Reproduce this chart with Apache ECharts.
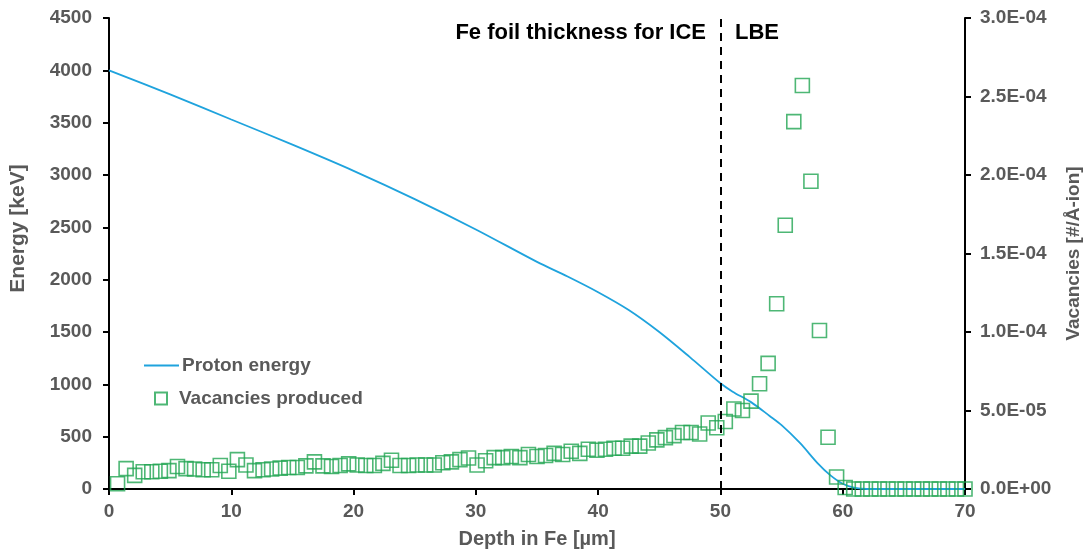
<!DOCTYPE html>
<html>
<head>
<meta charset="utf-8">
<script src="https://cdn.jsdelivr.net/npm/echarts@6/dist/echarts.min.js"></script>
<style>
html,body{margin:0;padding:0;background:#fff;}
#chart{width:1091px;height:554px;}
</style>
</head>
<body>
<div id="chart"></div>
<script>
// Proton energy curve (depth µm, energy keV)
const energyDepth = [0, 5, 10, 15, 20, 25, 30, 35, 37.5, 40, 42.5, 45, 47.5, 50, 51, 52.5, 54, 55, 56.5, 58, 59, 60, 61, 62, 66, 70];
const energyKeV   = [4000, 3770, 3530, 3290, 3040, 2770, 2480, 2170, 2030, 1880, 1710, 1500, 1260, 1010, 930, 830, 700, 610, 440, 240, 130, 50, 10, 0, 0, 0];

// Vacancies produced (depth µm, vacancies in units of 1E-05 #/Å-ion)
const vacDepth = [
  0.7, 1.4, 2.1, 2.8, 3.5, 4.2, 4.9, 5.6, 6.3, 7.0,
  7.7, 8.4, 9.1, 9.8, 10.5, 11.2, 11.9, 12.6, 13.3, 14.0,
  14.7, 15.4, 16.1, 16.8, 17.5, 18.2, 18.9, 19.6, 20.3, 21.0,
  21.7, 22.4, 23.1, 23.8, 24.5, 25.2, 25.9, 26.6, 27.3, 28.0,
  28.7, 29.4, 30.1, 30.8, 31.5, 32.2, 32.9, 33.6, 34.3, 35.0,
  35.7, 36.4, 37.1, 37.8, 38.5, 39.2, 39.9, 40.6, 41.3, 42.0,
  42.7, 43.4, 44.1, 44.8, 45.5, 46.2, 46.9, 47.6, 48.3, 49.0,
  49.7, 50.4, 51.1, 51.8, 52.5, 53.2, 53.9, 54.6, 55.3, 56.0,
  56.7, 57.4, 58.1, 58.8, 59.5, 60.2, 60.9, 61.6, 62.3, 63.0,
  63.7, 64.4, 65.1, 65.8, 66.5, 67.2, 67.9, 68.6, 69.3, 70.0
];
const vacE5 = [
  0.33, 1.30, 0.87, 1.10, 1.10, 1.13, 1.17, 1.43, 1.30, 1.27,
  1.23, 1.23, 1.50, 1.13, 1.87, 1.53, 1.17, 1.23, 1.27, 1.33,
  1.37, 1.37, 1.47, 1.73, 1.47, 1.43, 1.50, 1.60, 1.53, 1.50,
  1.50, 1.63, 1.83, 1.50, 1.50, 1.53, 1.53, 1.53, 1.67, 1.73,
  1.87, 1.97, 1.53, 1.80, 2.00, 2.00, 2.07, 2.00, 2.20, 2.07,
  2.13, 2.27, 2.20, 2.40, 2.27, 2.53, 2.47, 2.53, 2.60, 2.60,
  2.73, 2.73, 2.93, 3.13, 3.27, 3.40, 3.60, 3.60, 3.50, 4.20,
  3.90, 4.30, 5.10, 5.00, 5.60, 6.70, 8.00, 11.8, 16.8, 23.4,
  25.7, 19.6, 10.1, 3.30, 0.76, 0.10, 0, 0, 0, 0,
  0, 0, 0, 0, 0, 0, 0, 0, 0, 0
];

const xTicks = {min: 0, max: 70, interval: 10};
const yLeftTicks = {min: 0, max: 4500, interval: 500};
const yRightTicks = {min: 0, max: 3.0e-4, interval: 5.0e-5};

const energyData = energyDepth.map((d, i) => [d, energyKeV[i]]);
const vacData = vacDepth.map((d, i) => [d, vacE5[i] * 1e-5]);

const GRAY = '#595959';
const LINE = '#1fa3dd';
const GREEN = '#22a552';
const FONT = '"Liberation Sans", Arial, sans-serif';

function expFmt(v) {
  let s = Number(v).toExponential(1).toUpperCase();
  return s.replace(/E([+-])(\d)$/, 'E$10$2');
}

const chart = echarts.init(document.getElementById('chart'));
chart.setOption({
  animation: false,
  textStyle: {fontFamily: FONT},
  grid: {left: 108, right: 122, top: 18, bottom: 65, containLabel: false},
  legend: [
    {
      data: [{name: 'Proton energy', icon: 'path://M0,0 L36,0 L36,2 L0,2 Z'}],
      orient: 'vertical', left: 139, top: 351,
      itemWidth: 35, itemHeight: 2,
      itemStyle: {color: LINE},
      textStyle: {color: GRAY, fontSize: 19, fontWeight: 'bold', fontFamily: FONT, padding: [0, 0, 0, -2]}
    },
    {
      data: [{name: 'Vacancies produced', icon: 'rect'}], orient: 'vertical', left: 149, top: 384,
      itemWidth: 12, itemHeight: 12,
      itemStyle: {color: 'rgba(0,0,0,0)', borderColor: GREEN, borderWidth: 2},
      textStyle: {color: GRAY, fontSize: 19, fontWeight: 'bold', fontFamily: FONT, padding: [0, 0, 0, 7]}
    }
  ],
  xAxis: {
    type: 'value', min: xTicks.min, max: xTicks.max, interval: xTicks.interval,
    name: 'Depth in Fe [µm]', nameLocation: 'middle', nameGap: 40,
    nameTextStyle: {color: GRAY, fontSize: 20, fontWeight: 'bold', fontFamily: FONT},
    axisLine: {lineStyle: {color: '#000', width: 2}},
    axisTick: {show: true, length: 6, lineStyle: {color: '#000', width: 2}},
    axisLabel: {color: GRAY, fontSize: 19, fontWeight: 'bold', margin: 13},
    splitLine: {show: false}
  },
  yAxis: [
    {
      type: 'value', min: yLeftTicks.min, max: yLeftTicks.max, interval: yLeftTicks.interval,
      name: 'Energy [keV]', nameLocation: 'middle', nameGap: 80, nameRotate: 90,
      nameTextStyle: {color: GRAY, fontSize: 21, fontWeight: 'bold', fontFamily: FONT, padding: [0, 0, 0, 50]},
      axisLine: {show: true, lineStyle: {color: '#000', width: 2}},
      axisTick: {show: true, length: 6, lineStyle: {color: '#000', width: 2}},
      axisLabel: {color: GRAY, fontSize: 19, fontWeight: 'bold', margin: 17, formatter: v => String(v)},
      splitLine: {show: false}
    },
    {
      type: 'value', min: yRightTicks.min, max: yRightTicks.max, interval: yRightTicks.interval,
      position: 'right',
      name: 'Vacancies [#/Å-ion]', nameLocation: 'middle', nameGap: 99, nameRotate: 90,
      nameTextStyle: {color: GRAY, fontSize: 19, fontWeight: 'bold', fontFamily: FONT},
      axisLine: {show: true, lineStyle: {color: '#000', width: 2}},
      axisTick: {show: true, length: 6, lineStyle: {color: '#000', width: 2}},
      axisLabel: {color: GRAY, fontSize: 19, fontWeight: 'bold', margin: 15, formatter: expFmt},
      splitLine: {show: false}
    }
  ],
  series: [
    {
      name: 'Proton energy', type: 'line', yAxisIndex: 0, data: energyData,
      symbol: 'none', smooth: 0.3,
      lineStyle: {color: LINE, width: 1.8}, itemStyle: {color: LINE},
      z: 3
    },
    {
      name: 'Vacancies produced', type: 'scatter', yAxisIndex: 1, data: vacData,
      symbol: 'rect', symbolSize: 14,
      itemStyle: {color: 'rgba(0,0,0,0)', borderColor: GREEN, borderWidth: 1.6},
      z: 4,
      markLine: {
        silent: true, symbol: 'none',
        label: {show: false},
        lineStyle: {color: '#000', type: [8, 6], width: 2},
        data: [{xAxis: 50}]
      }
    }
  ],
  graphic: [
    {type: 'text', right: 1091 - 706, top: 22,
     style: {text: 'Fe foil thickness for ICE', fill: '#000', font: 'bold 22px ' + FONT}},
    {type: 'text', left: 735, top: 22,
     style: {text: 'LBE', fill: '#000', font: 'bold 22px ' + FONT}}
  ]
});
</script>
</body>
</html>
